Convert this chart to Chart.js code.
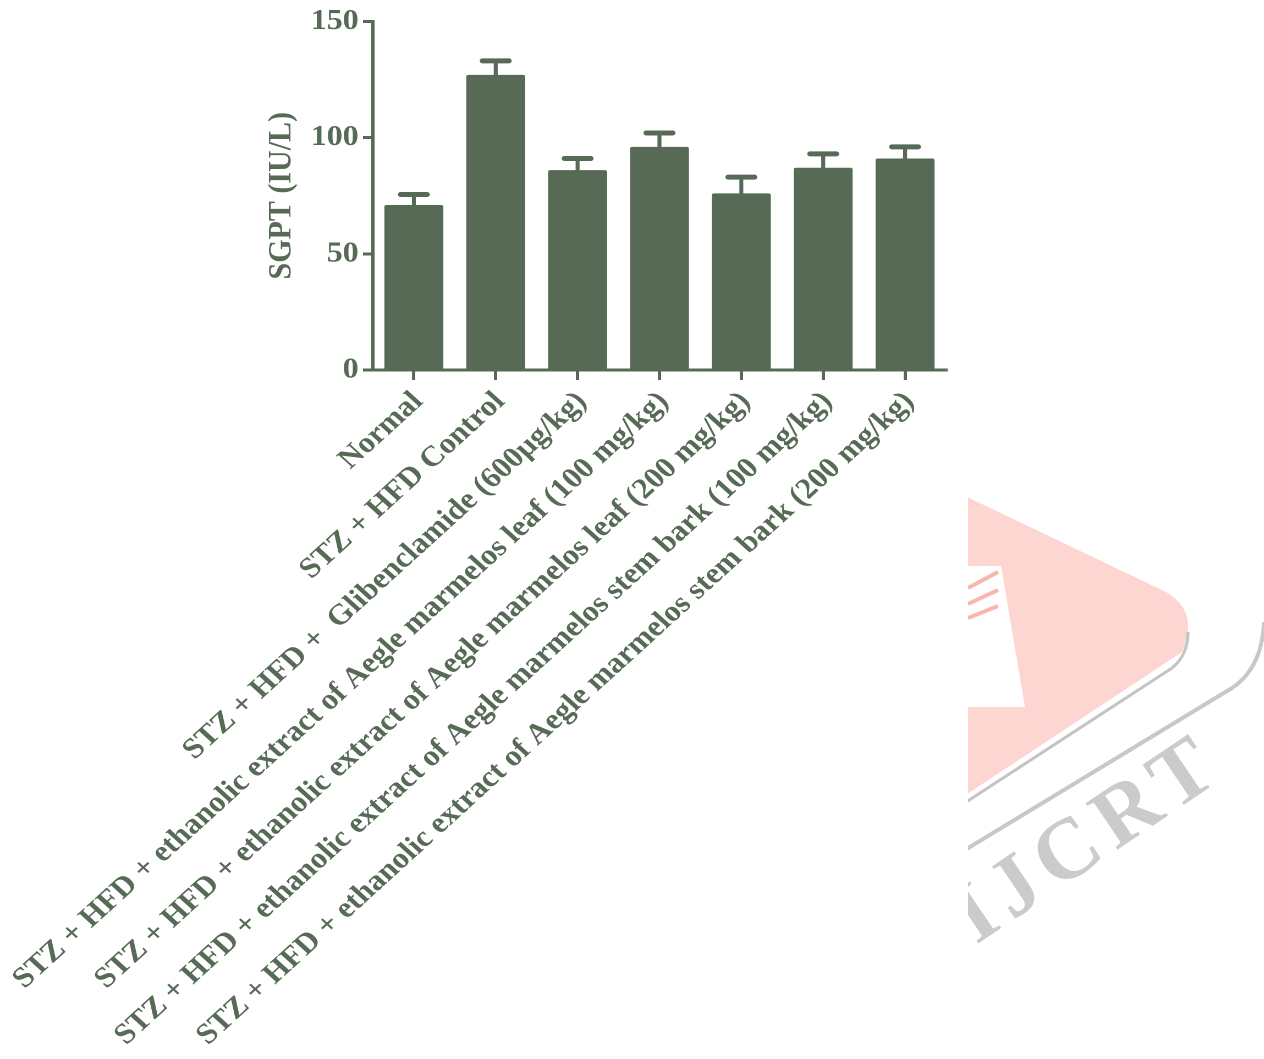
<!DOCTYPE html>
<html>
<head>
<meta charset="utf-8">
<script src="https://cdn.jsdelivr.net/npm/chart.js@4.4.1/dist/chart.umd.min.js"></script>
<style>
  html, body { margin: 0; padding: 0; background: #fff; overflow: hidden; }
  /* the original figure is a little wider than tall, so the whole chart is stretched */
  #wrap {
    width: 1149px;
    height: 1059px;
    position: relative;
    transform: scaleX(1.1);
    transform-origin: 0 0;
  }
</style>
</head>
<body>
<div id="wrap"><canvas id="sgptChart"></canvas></div>
<script>
// groups on the x axis
const groups = [
  "Normal",
  "STZ + HFD Control",
  "STZ + HFD +  Glibenclamide (600µg/kg)",
  "STZ + HFD + ethanolic extract of Aegle marmelos leaf (100 mg/kg)",
  "STZ + HFD + ethanolic extract of Aegle marmelos leaf (200 mg/kg)",
  "STZ + HFD + ethanolic extract of Aegle marmelos stem bark (100 mg/kg)",
  "STZ + HFD + ethanolic extract of Aegle marmelos stem bark (200 mg/kg)"
];
// SGPT mean and upper error (SEM), IU/L
const sgptMean = [71, 127, 86, 96, 76, 87, 91];
const sgptSem = [4.5, 6, 5, 6, 7, 6, 5];
const yTicks = [0, 50, 100, 150];

const stretch = 1.1;
const green = "#566a55";
const serif = "'Liberation Serif', 'Times New Roman', serif";

// upper error bars, drawn from the bar top
const errorBars = {
  id: "errorBars",
  afterDatasetsDraw(chart) {
    const ctx = chart.ctx;
    const y = chart.scales.y;
    const meta = chart.getDatasetMeta(0);
    ctx.save();
    ctx.strokeStyle = green;
    ctx.lineCap = "round";
    meta.data.forEach((bar, i) => {
      const top = y.getPixelForValue(sgptMean[i]);
      const hi = y.getPixelForValue(sgptMean[i] + sgptSem[i]);
      ctx.lineWidth = 3.6;
      ctx.beginPath();
      ctx.moveTo(bar.x, top);
      ctx.lineTo(bar.x, hi);
      ctx.stroke();
      ctx.lineWidth = 5;
      ctx.beginPath();
      ctx.moveTo(bar.x - 12, hi);
      ctx.lineTo(bar.x + 12, hi);
      ctx.stroke();
    });
    ctx.restore();
  }
};

// faint publisher watermark in the lower right (page coordinates)
const watermark = {
  id: "watermark",
  beforeDraw(chart) {
    const ctx = chart.ctx;
    ctx.save();
    ctx.scale(1 / stretch, 1);
    ctx.beginPath();
    ctx.rect(968, 0, 296, 1059);
    ctx.clip();

    // pink shape
    ctx.fillStyle = "#fdd6d1";
    ctx.beginPath();
    ctx.moveTo(940, 484);
    ctx.lineTo(1166, 592);
    ctx.quadraticCurveTo(1200, 612, 1182, 652);
    ctx.lineTo(940, 812);
    ctx.closePath();
    ctx.fill();

    // shadow under it
    ctx.strokeStyle = "#c4c4c4";
    ctx.lineWidth = 3;
    ctx.beginPath();
    ctx.moveTo(960, 806);
    ctx.lineTo(1172, 668);
    ctx.quadraticCurveTo(1188, 655, 1188, 632);
    ctx.stroke();

    // white cut-out
    ctx.fillStyle = "#ffffff";
    ctx.beginPath();
    ctx.moveTo(960, 566);
    ctx.lineTo(1001, 566);
    ctx.lineTo(1025, 707);
    ctx.lineTo(960, 707);
    ctx.closePath();
    ctx.fill();
    ctx.strokeStyle = "#f8b6ad";
    ctx.lineWidth = 4;
    [[572, 588], [590, 604], [606, 618]].forEach(([a, b]) => {
      ctx.beginPath();
      ctx.moveTo(968, b);
      ctx.lineTo(998, a);
      ctx.stroke();
    });

    // outer arc
    ctx.strokeStyle = "#c8c8c8";
    ctx.lineWidth = 4;
    ctx.beginPath();
    ctx.moveTo(955, 856);
    ctx.lineTo(1232, 688);
    ctx.quadraticCurveTo(1262, 668, 1264, 622);
    ctx.stroke();

    // letters
    ctx.fillStyle = "#cbcbcb";
    ctx.font = "bold 86px " + serif;
    ctx.letterSpacing = "10px";
    ctx.translate(976, 945);
    ctx.rotate(-34 * Math.PI / 180);
    ctx.fillText("IJCRT", 0, 0);
    ctx.restore();
  }
};

new Chart(document.getElementById("sgptChart"), {
  type: "bar",
  data: {
    labels: groups,
    datasets: [
      {
        label: "SGPT",
        data: sgptMean,
        backgroundColor: green,
        borderWidth: 0,
        borderRadius: 2,
        borderSkipped: "bottom",
        barPercentage: 0.72,
        categoryPercentage: 1
      }
    ]
  },
  options: {
    responsive: true,
    maintainAspectRatio: false,
    animation: false,
    devicePixelRatio: 2,
    layout: {
      padding: { left: 234, right: 289, top: 2, bottom: 0 }
    },
    plugins: {
      legend: { display: false },
      tooltip: { enabled: false }
    },
    scales: {
      x: {
        grid: {
          offset: false,
          drawOnChartArea: false,
          drawTicks: true,
          tickLength: 10,
          lineWidth: 3,
          color: green
        },
        border: { display: true, width: 3, color: green },
        ticks: {
          autoSkip: false,
          minRotation: 45,
          maxRotation: 45,
          padding: 5,
          labelOffset: 4,
          color: green,
          font: { family: serif, size: 29, weight: "bold" }
        },
        afterFit(scale) {
          scale.height = 689;
        }
      },
      y: {
        min: 0,
        max: 150,
        afterBuildTicks(scale) {
          scale.ticks = yTicks.map((v) => ({ value: v }));
        },
        grid: {
          drawOnChartArea: false,
          drawTicks: true,
          tickLength: 9,
          lineWidth: 3,
          color: green
        },
        border: { display: true, width: 3, color: green },
        ticks: {
          padding: 4,
          color: green,
          font: { family: serif, size: 29, weight: "bold" }
        },
        title: {
          display: true,
          text: "SGPT (IU/L)",
          color: green,
          padding: { top: 4, bottom: 4 },
          font: { family: serif, size: 30, weight: "bold" }
        },
        afterFit(scale) {
          scale.width = 105;
        }
      }
    }
  },
  plugins: [errorBars, watermark]
});
</script>
</body>
</html>
